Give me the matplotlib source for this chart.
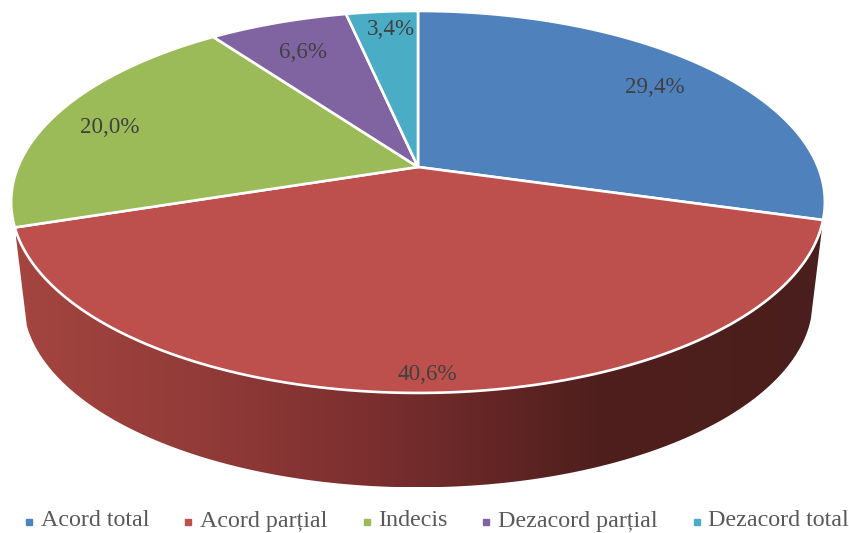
import numpy as np
import matplotlib
matplotlib.use("Agg")
import matplotlib.pyplot as plt
from matplotlib.colors import LinearSegmentedColormap
from matplotlib.patches import Polygon

plt.rcParams["font.family"] = ["Liberation Serif", "DejaVu Serif"]

# data
categories = ["Acord total", "Acord parțial", "Indecis", "Dezacord parțial", "Dezacord total"]
values = [29.4, 40.6, 20.0, 6.6, 3.4]
value_labels = ["29,4%", "40,6%", "20,0%", "6,6%", "3,4%"]

# style
colors = ["#4f81bd", "#bd4f4c", "#9bbb59", "#8064a2", "#4bacc6"]
label_radius = [0.81, 0.92, 0.85, 0.80, 0.89]
label_dx = [0, 1, 0, 0, 6]
label_dy = [3, 3, 7, 4, 3]
legend_marker_x = [29, 188, 367, 486, 697]
legend_text_x = [41, 200, 378, 498, 708]
legend_marker_y = 522
legend_text_y = 521

# perspective of the pie: far side shrinks
CX = 418
TOP_Y = 167
TOP_A = 184.6
TOP_B = 400
BOT_Y = 267
BOT_A = 180
BOT_B = 388
K = 0.183


def project(theta, r=1.0, cy=TOP_Y, a=TOP_A, b=TOP_B):
    # theta in degrees, counter clockwise from the right
    t = np.radians(theta)
    w = 1 + K * r * np.sin(t)
    return CX + b * r * np.cos(t) / w, cy - a * r * np.sin(t) / w


fig = plt.figure(figsize=(8.49, 5.33), dpi=100)
ax = fig.add_axes([0, 0, 1, 1])

# slice angles, clockwise from 12 o'clock
edges = 90 - 3.6 * np.concatenate([[0], np.cumsum(values)])

# side wall of the front slice (Acord partial), shaded left to right
side_t = np.linspace(edges[1], edges[2], 200)
top_x, top_y = project(side_t)
bot_x, bot_y = project(side_t, cy=BOT_Y, a=BOT_A, b=BOT_B)
side_xy = np.column_stack([np.r_[top_x, bot_x[::-1]], np.r_[top_y, bot_y[::-1]]])
side_patch = Polygon(side_xy, closed=True, facecolor="none", edgecolor="none")
ax.add_patch(side_patch)

side_cmap = LinearSegmentedColormap.from_list(
    "side",
    [
        (0.0, "#a4453f"),
        (0.25, "#903a38"),
        (0.45, "#7a2e2e"),
        (0.72, "#4f1f1d"),
        (1.0, "#4a1e1c"),
    ],
)
img = ax.imshow(
    np.linspace(0, 1, 400).reshape(1, -1),
    extent=(16, 824, 487, 219),
    cmap=side_cmap,
    aspect="auto",
    interpolation="bilinear",
)
img.set_clip_path(side_patch)

# top face
for i, color in enumerate(colors):
    t = np.linspace(edges[i], edges[i + 1], 120)
    x, y = project(t)
    xy = np.column_stack([np.r_[CX, x], np.r_[TOP_Y, y]])
    ax.add_patch(
        Polygon(xy, closed=True, facecolor=color, edgecolor="white", linewidth=1.9, joinstyle="round")
    )

# value labels
for i, label in enumerate(value_labels):
    mid = (edges[i] + edges[i + 1]) / 2
    x, y = project(mid, r=label_radius[i])
    ax.text(x + label_dx[i], y + label_dy[i], label, fontsize=16.6, color="#404040", ha="center", va="center")

# legend
for i, name in enumerate(categories):
    ax.plot(legend_marker_x[i], legend_marker_y, marker="s", markersize=5, color=colors[i] if i != 1 else "#c0504d",
            linestyle="none")
    ax.text(legend_text_x[i], legend_text_y, name, fontsize=17.3, color="#595959", ha="left", va="center")

ax.set_xlim(0, 849)
ax.set_ylim(533, 0)
ax.axis("off")

fig.savefig("out.png", dpi=100)
